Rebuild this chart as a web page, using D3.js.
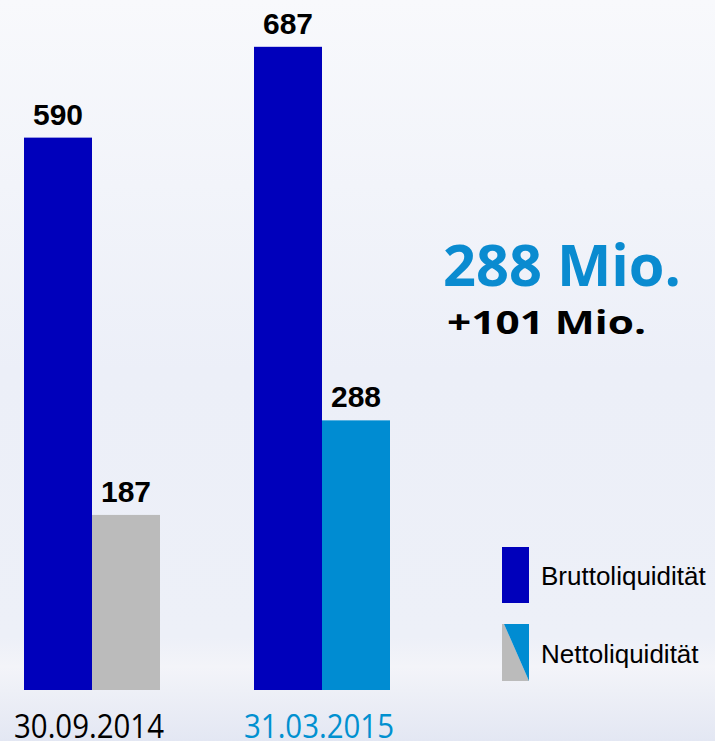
<!DOCTYPE html>
<html><head><meta charset="utf-8">
<script src="https://cdn.jsdelivr.net/npm/d3@7"></script>
<style>html,body{margin:0;padding:0;}svg{display:block;}</style>
</head><body>
<script>
const dates = ['30.09.2014', '31.03.2015'];
const series = ['Bruttoliquidität', 'Nettoliquidität'];
const brutto = [590, 687];
const netto = [187, 288];
const headline = '288 Mio.';
const delta = '+101 Mio.';

const W = 715, H = 741;
const svg = d3.select('body').append('svg').attr('width', W).attr('height', H);
const defs = svg.append('defs');
const g = defs.append('linearGradient').attr('id', 'bg').attr('x1', 0).attr('y1', 0).attr('x2', 0).attr('y2', 1);
[[0, '#f8f9fc'], [0.5, '#eceff8'], [0.86, '#edf0f8'], [0.9, '#f3f4f9'], [1, '#e3e7f3']].forEach(s =>
  g.append('stop').attr('offset', s[0]).attr('stop-color', s[1]));
svg.append('rect').attr('width', W).attr('height', H).attr('fill', 'url(#bg)');

const bruttoColor = '#0000bb';
const nettoColors = ['#bbbbbb', '#008cd2'];

const x0 = d3.scaleBand().domain(dates).range([24, 390]).paddingInner(94 / 230).paddingOuter(0);
const x1 = d3.scaleBand().domain(series).range([0, x0.bandwidth()]).padding(0);
const y = d3.scaleLinear().domain([0, 737]).range([690, 0]);

const rows = [];
dates.forEach((d, i) => {
  rows.push({date: d, s: series[0], v: brutto[i], c: bruttoColor});
  rows.push({date: d, s: series[1], v: netto[i], c: nettoColors[i]});
});

svg.selectAll('rect.bar').data(rows).enter().append('rect').attr('class', 'bar')
  .attr('x', d => x0(d.date) + x1(d.s))
  .attr('width', x1.bandwidth())
  .attr('y', d => y(d.v))
  .attr('height', d => y(0) - y(d.v))
  .attr('fill', d => d.c);

svg.selectAll('text.val').data(rows).enter().append('text').attr('class', 'val')
  .attr('x', d => x0(d.date) + x1(d.s) + x1.bandwidth() / 2)
  .attr('y', d => y(d.v) - 13)
  .attr('text-anchor', 'middle')
  .attr('font-family', 'Liberation Sans, Arial, sans-serif')
  .attr('font-weight', 'bold').attr('font-size', 30)
  .attr('fill', '#000')
  .text(d => d.v);

// category axis labels
const xAxis = d3.axisBottom(x0).tickSize(0).tickPadding(0);
const ax = svg.append('g').attr('transform', 'translate(-3,0)').call(xAxis);
ax.select('.domain').remove();
ax.selectAll('text')
  .attr('y', 738).attr('dy', null)
  .attr('font-family', 'Open Sans, Noto Sans, sans-serif')
  .attr('font-size', 32)
  .attr('textLength', 150).attr('lengthAdjust', 'spacingAndGlyphs')
  .attr('fill', (d, i) => i === 0 ? '#000' : '#0090d0');

// headline
svg.append('text').attr('x', 443).attr('y', 286)
  .attr('font-family', 'Open Sans, Noto Sans, sans-serif').attr('font-weight', 'bold')
  .attr('font-size', 58).attr('fill', '#0a8bd0')
  .attr('textLength', 238).attr('lengthAdjust', 'spacingAndGlyphs')
  .text(headline);
svg.append('text').attr('x', 447).attr('y', 334)
  .attr('font-family', 'Open Sans, Noto Sans, sans-serif').attr('font-weight', 'bold')
  .attr('font-size', 33).attr('fill', '#000')
  .attr('textLength', 199).attr('lengthAdjust', 'spacingAndGlyphs')
  .text(delta);

// legend
const lg = svg.append('g');
lg.append('rect').attr('x', 502).attr('y', 547).attr('width', 27).attr('height', 56).attr('fill', bruttoColor);
lg.append('polygon').attr('points', '502,624 504,624 529,681 502,681').attr('fill', nettoColors[0]);
lg.append('polygon').attr('points', '504,624 529,624 529,681').attr('fill', nettoColors[1]);
lg.selectAll('text.leg').data(series).enter().append('text').attr('class', 'leg')
  .attr('x', 541).attr('y', (d, i) => i === 0 ? 585 : 663)
  .attr('font-family', 'Liberation Sans, Arial, sans-serif').attr('font-size', 26)
  .attr('fill', '#000')
  .text(d => d);
</script>
</body></html>
